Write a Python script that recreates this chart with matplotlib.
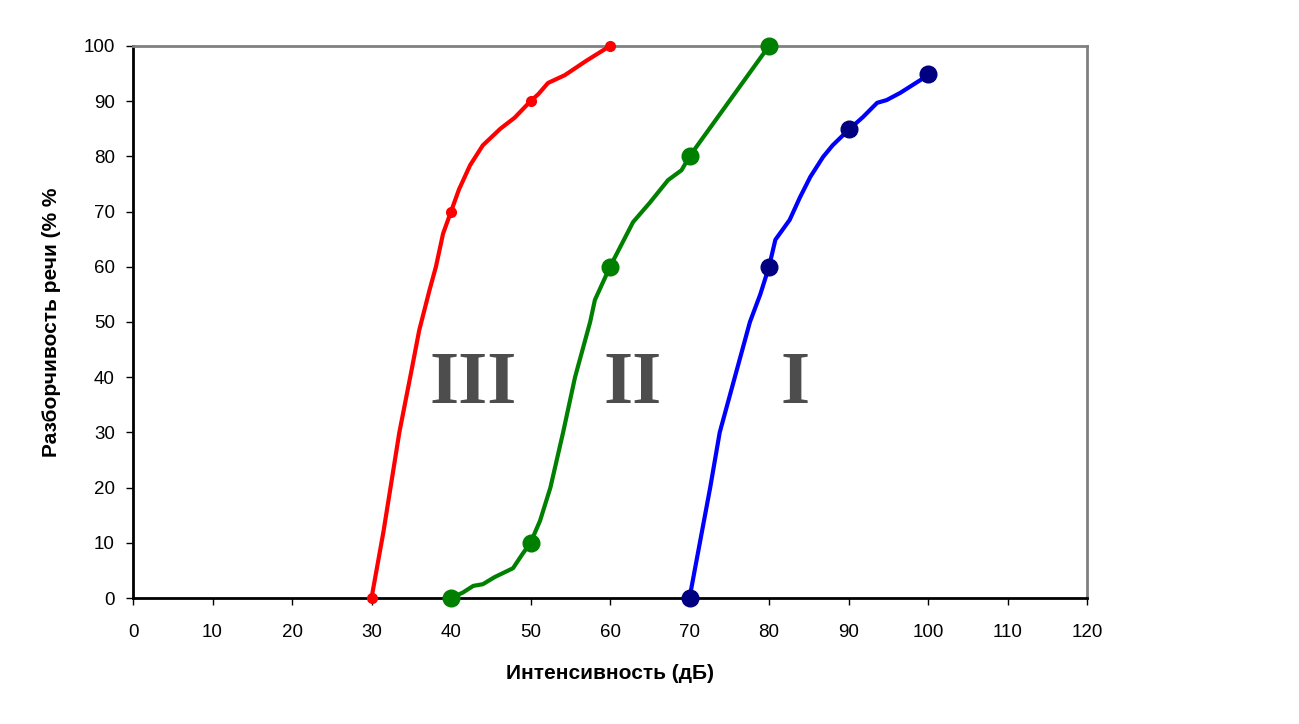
import matplotlib
matplotlib.use('Agg')
import matplotlib.pyplot as plt

plt.rcParams['font.family'] = ['Liberation Sans', 'DejaVu Sans']

# curve III (red): traced line and measured points
red_x = [30, 31.5, 33.5, 35, 36, 37.3, 38.1, 39, 40, 41, 42.4, 44, 46.2, 48, 50, 51, 52.2, 54.3, 57, 60]
red_y = [0, 12, 30, 41, 48.5, 55.8, 60, 66, 70, 74, 78.4, 82, 85, 87, 90, 91.3, 93.3, 94.7, 97.3, 100]
red_px = [30, 40, 50, 60]
red_py = [0, 70, 90, 100]

# curve II (green)
green_x = [40, 41.5, 42.8, 44, 45.5, 47.8, 49, 50, 51.2, 52.5, 54.1, 55.6, 57.5, 58.1, 60, 62.9, 65, 67.3, 69, 70, 80]
green_y = [0, 1, 2.2, 2.5, 3.8, 5.4, 8, 10, 14, 20, 30, 40, 50, 54, 60, 68.1, 71.6, 75.7, 77.5, 80, 100]
green_px = [40, 50, 60, 70, 80]
green_py = [0, 10, 60, 80, 100]

# curve I (blue)
blue_x = [70, 71.3, 72.6, 73.8, 75.7, 77.6, 78.9, 80, 80.8, 82.6, 83.9, 85.2, 86.8, 88, 90, 91.8, 93.6, 94.8, 96.5, 100]
blue_y = [0, 10, 20, 30, 40, 50, 55, 60, 64.9, 68.5, 72.6, 76.3, 79.9, 82, 84.8, 87.1, 89.7, 90.2, 91.5, 94.7]
blue_px = [70, 80, 90, 100]
blue_py = [0, 60, 85, 95]

labels = ['III', 'II', 'I']
label_x = [42.8, 62.8, 83.3]
label_y = [38.5, 38.5, 38.5]

fig = plt.figure(figsize=(12.99, 7.24), dpi=100)
ax = fig.add_axes([0.1024, 0.174, 0.7344, 0.7625])

ax.plot(red_x, red_y, color='#ff0000', lw=3, solid_capstyle='round', zorder=3)
ax.plot(red_px, red_py, 'o', color='#ff0000', ms=7, zorder=4, clip_on=False)
ax.plot(green_x, green_y, color='#008000', lw=3, solid_capstyle='round', zorder=3)
ax.plot(green_px, green_py, 'o', color='#008000', ms=12, zorder=4, clip_on=False)
ax.plot(blue_x, blue_y, color='#0000ff', lw=3, solid_capstyle='round', zorder=3)
ax.plot(blue_px, blue_py, 'o', color='#000080', ms=12, zorder=4, clip_on=False)

for t, x, y in zip(labels, label_x, label_y):
    ax.text(x, y, t, fontsize=54, family='Liberation Serif', fontweight='bold',
            color='#4d4d4d', ha='center', va='center')

ax.set_xlim(0, 120)
ax.set_ylim(0, 100)
ax.set_xticks(range(0, 121, 10))
ax.set_yticks(range(0, 101, 10))
ax.tick_params(direction='out', length=5, width=1, labelsize=13.5, colors='black')
ax.tick_params(axis='x', pad=14)
ax.tick_params(axis='y', pad=8)

ax.spines['left'].set_color('black')
ax.spines['bottom'].set_color('black')
ax.spines['top'].set_color('#808080')
ax.spines['right'].set_color('#808080')
for s in ax.spines.values():
    s.set_linewidth(2)

ax.set_xlabel('Интенсивность (дБ)', fontsize=15, fontweight='bold', labelpad=16)
ax.set_ylabel('Разборчивость речи (% %', fontsize=15, fontweight='bold', labelpad=16)

fig.savefig('out.png', dpi=100)
